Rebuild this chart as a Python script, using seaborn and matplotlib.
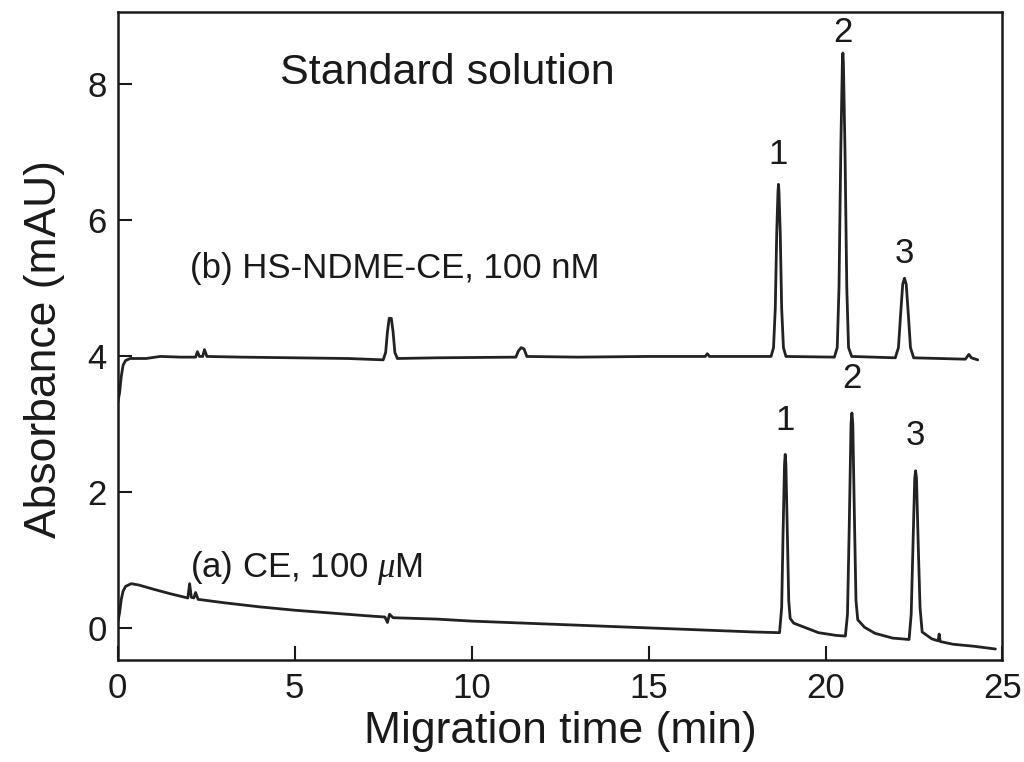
import numpy as np
import pandas as pd
import matplotlib
matplotlib.use("Agg")
from matplotlib import pyplot as plt
import seaborn as sns

# trace (b) HS-NDME-CE (min, mAU)
time_b = [0.00, 0.05, 0.10, 0.15, 0.22, 0.35, 0.80, 1.20, 1.80, 2.20, 2.25, 2.31,
          2.40, 2.45, 2.52, 3.50, 5.00, 6.50, 7.50, 7.57, 7.62, 7.67, 7.73, 7.78,
          7.83, 7.90, 9.00, 11.25, 11.32, 11.40, 11.48, 11.56, 13.00, 15.00, 16.60,
          16.66, 16.72,
          18.46, 18.53, 18.58, 18.62, 18.655, 18.67, 18.685, 18.72, 18.76, 18.81, 18.88,
          20.25, 20.33, 20.38, 20.43, 20.475, 20.49, 20.505, 20.55, 20.60, 20.65, 20.74,
          21.97, 22.06, 22.12, 22.18, 22.23, 22.28, 22.34, 22.40, 22.49,
          23.95, 24.05, 24.12, 24.30]
abs_b = [3.32, 3.45, 3.70, 3.86, 3.93, 3.96, 3.96, 3.99, 3.98, 3.98, 4.06, 3.99,
         3.99, 4.09, 3.99, 3.98, 3.97, 3.96, 3.94, 4.05, 4.35, 4.55, 4.55, 4.35,
         4.05, 3.96, 3.97, 3.98, 4.07, 4.12, 4.10, 3.99, 3.98, 3.99, 3.99,
         4.03, 3.99,
         3.99, 4.12, 4.70, 5.80, 6.40, 6.52, 6.40, 5.80, 4.70, 4.12, 3.99,
         3.98, 4.12, 5.00, 7.00, 8.30, 8.45, 8.30, 7.00, 5.00, 4.12, 3.99,
         3.97, 4.12, 4.60, 5.05, 5.14, 5.05, 4.60, 4.12, 3.97,
         3.95, 4.02, 3.97, 3.94]

# trace (a) CE
time_a = [0.00, 0.05, 0.10, 0.15, 0.22, 0.38, 0.60, 1.00, 1.50, 1.98, 2.03, 2.08,
          2.15, 2.20, 2.27, 3.00, 4.00, 5.00, 6.00, 7.00, 7.55, 7.62, 7.68, 7.78,
          9.00, 10.00, 11.00, 12.00, 13.00, 14.00, 15.00, 16.00, 17.00, 18.00,
          18.70, 18.76, 18.80, 18.84, 18.86, 18.88, 18.92, 18.96, 19.00,
          19.10, 19.40, 19.80, 20.30,
          20.56, 20.62, 20.67, 20.72, 20.745, 20.77, 20.82, 20.86, 20.91,
          21.10, 21.40, 21.90,
          22.36, 22.42, 22.47, 22.52, 22.545, 22.57, 22.62, 22.67, 22.73,
          23.00, 23.18, 23.21, 23.24, 23.60, 24.20, 24.80]
abs_a = [0.08, 0.22, 0.42, 0.54, 0.61, 0.65, 0.63, 0.57, 0.50, 0.44, 0.65, 0.45,
         0.44, 0.52, 0.42, 0.37, 0.31, 0.26, 0.22, 0.18, 0.16, 0.08, 0.20, 0.15,
         0.13, 0.10, 0.08, 0.06, 0.04, 0.02, 0.00, -0.02, -0.04, -0.06,
         -0.07, 0.30, 1.40, 2.40, 2.55, 2.40, 1.40, 0.40, 0.14,
         0.07, 0.01, -0.07, -0.11,
         -0.12, 0.20, 1.50, 3.00, 3.16, 3.00, 1.50, 0.40, 0.12,
         0.01, -0.08, -0.15,
         -0.17, 0.20, 1.20, 2.20, 2.31, 2.20, 1.20, 0.30, -0.06,
         -0.16, -0.19, -0.09, -0.20, -0.24, -0.27, -0.31]

peak_names = ["1", "2", "3"]
windows = [(18, 19.5), (19.5, 21.5), (21.5, 23)]
offsets_b = [0.2, 0.06, 0.12]
offsets_a = [0.25, 0.26, 0.27]

df_b = pd.DataFrame({"time": time_b, "absorbance": abs_b})
df_a = pd.DataFrame({"time": time_a, "absorbance": abs_a})

sns.set_style("ticks")
plt.rcParams["font.family"] = ["Liberation Sans", "DejaVu Sans"]
plt.rcParams["mathtext.fontset"] = "custom"
plt.rcParams["mathtext.it"] = "Liberation Serif:italic"

fig = plt.figure(figsize=(10.24, 7.62), dpi=100)
ax = fig.add_axes([0.115, 0.134, 0.864, 0.850])

ink = "#222222"
sns.lineplot(data=df_b, x="time", y="absorbance", ax=ax, color=ink, lw=2.0,
             estimator=None, sort=False)
sns.lineplot(data=df_a, x="time", y="absorbance", ax=ax, color=ink, lw=2.0,
             estimator=None, sort=False)

# peak numbers above each peak
def label_peaks(df, offsets):
    for name, (lo, hi), off in zip(peak_names, windows, offsets):
        part = df[(df.time > lo) & (df.time < hi)]
        i = part.absorbance.idxmax()
        ax.text(part.time[i], part.absorbance[i] + off, name, fontsize=25,
                ha="center", va="bottom", color="#1a1a1a")

label_peaks(df_b, offsets_b)
label_peaks(df_a, offsets_a)

ax.text(4.58, 8.16, "Standard solution", fontsize=31, ha="left", va="center",
        color="#1a1a1a")
ax.text(2.03, 5.28, "(b) HS-NDME-CE, 100 nM", fontsize=25, ha="left",
        va="center", color="#1a1a1a")
ax.text(2.03, 0.88, r"(a) CE, 100 $\mathit{\mu}$M", fontsize=25, ha="left",
        va="center", color="#1a1a1a")

ax.set_xlim(0, 25)
ax.set_ylim(-0.47, 9.05)
ax.set_xticks([0, 5, 10, 15, 20, 25])
ax.set_yticks([0, 2, 4, 6, 8])
ax.tick_params(direction="in", length=10, width=1.5, labelsize=25,
               colors="#1a1a1a", top=False, right=False)
ax.tick_params(axis="x", pad=9)
ax.tick_params(axis="y", pad=8)
for s in ax.spines.values():
    s.set_linewidth(1.8)
    s.set_color("#1a1a1a")
ax.set_xlabel("Migration time (min)", fontsize=32, color="#1a1a1a", labelpad=4)
ax.set_ylabel("Absorbance (mAU)", fontsize=32, color="#1a1a1a")
ax.yaxis.set_label_coords(-0.06, 0.48)

fig.savefig("out.png", dpi=100)
